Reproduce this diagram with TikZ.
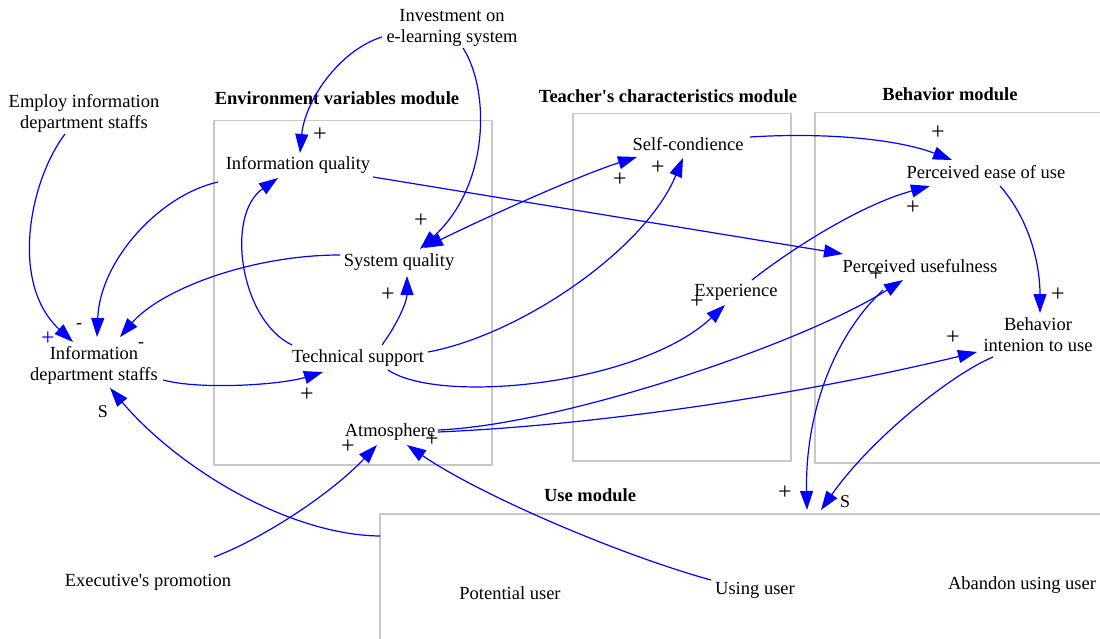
\documentclass[tikz,border=0pt]{standalone}
\usepackage{fontspec}
\setmainfont{Liberation Serif}[Ligatures=TeXOff]
\usetikzlibrary{arrows.meta,calc}
\definecolor{arrblue}{RGB}{0,0,255}
\definecolor{boxgray}{RGB}{200,200,200}
\begin{document}
\begin{tikzpicture}[x=1pt,y=-1pt,
  lbl/.style={font=\fontsize{18.5}{21}\selectfont, inner sep=0pt, align=center},
  title/.style={font=\fontsize{18.5}{21}\selectfont\bfseries, inner sep=0pt},
  pol/.style={font=\fontsize{18}{20}\selectfont, inner sep=0pt},
  plus/.style={font=\fontsize{24}{26}\selectfont, inner sep=0pt},
  link/.style={draw=arrblue, line width=1.2pt, -{Triangle[length=19pt,width=13pt]}},
  dlink/.style={draw=arrblue, line width=1.2pt, {Triangle[length=19pt,width=13pt]}-{Triangle[length=19pt,width=13pt]}},
  modbox/.style={draw=boxgray, line width=1.5pt, inner sep=0pt, anchor=north west}
]
\useasboundingbox (0,0) rectangle (1100,639);

% module boxes
\node[modbox, minimum width=278pt, minimum height=344pt] (envbox) at (213,120) {};
\node[modbox, minimum width=218pt, minimum height=347pt] (teabox) at (572,113) {};
\node[modbox, minimum width=300pt, minimum height=350pt] (behbox) at (814,112) {};
\node[modbox, minimum width=740pt, minimum height=140pt] (usebox) at (379,513) {};

% titles
\node[title] (tenv) at (337,98) {Environment variables module};
\node[title] (ttea) at (668,96) {Teacher's characteristics module};
\node[title] (tbeh) at (950,94) {Behavior module};
\node[title] (tuse) at (590,495) {Use module};

% variables
\node[lbl] (emp) at (84,113) {Employ information\\department staffs};
\node[lbl] (inv) at (452,28) {Investment on\\e-learning system};
\node[lbl] (ids) at (94,365) {Information\\department staffs};
\node[lbl] (iq) at (298,165) {Information quality};
\node[lbl] (sq) at (399,262) {System quality};
\node[lbl] (ts) at (358,358) {Technical support};
\node[lbl] (atm) at (390,432) {Atmosphere};
\node[lbl] (sc) at (688,144) {Self-condience};
\node[lbl] (exp) at (736,292) {Experience};
\node[lbl] (peou) at (986,172) {Perceived ease of use};
\node[lbl] (pu) at (920,266) {Perceived usefulness};
\node[lbl] (bi) at (1038,335) {Behavior\\intenion to use};
\node[lbl] (exe) at (148,582) {Executive's promotion};
\node[lbl] (pot) at (510,593) {Potential user};
\node[lbl] (usu) at (755,590) {Using user};
\node[lbl] (aba) at (1022,585) {Abandon using user};

% connectors
\draw[link] ($(emp)+(-19,21)$) .. controls (30,180) and (9,283) .. ($(ids)+(-21,-23)$);
\draw[link] ($(iq)+(-80,17)$) .. controls (160,195) and (100,260) .. ($(ids)+(3,-28)$);
\draw[link] ($(sq)+(-59,-7)$) .. controls (250,255) and (160,290) .. ($(ids)+(26,-28)$);
\draw[link] ($(ids)+(69,15)$) .. controls (200,390) and (280,385) .. ($(ts)+(-35,14)$);
\draw[link] ($(inv)+(-70,9)$) .. controls (340,50) and (305,100) .. ($(iq)+(2,-12)$);
\draw[link] ($(inv)+(11,20)$) .. controls (490,90) and (490,185) .. ($(sq)+(21,-13)$);
\draw[link] ($(ts)+(-66,-13)$) .. controls (240,320) and (225,215) .. ($(iq)+(-20,13)$);
\draw[link] ($(ts)+(24,-13)$) .. controls (400,320) and (407,300) .. ($(sq)+(8,14)$);
\draw[dlink] ($(sq)+(25,-14)$) .. controls (480,220) and (580,175) .. ($(sc)+(-51,13)$);
\draw[link] ($(ts)+(70,-6)$) .. controls (520,335) and (645,250) .. ($(sc)+(-5,14)$);
\draw[link] ($(iq)+(75,12)$) -- ($(pu)+(-77,-12)$);
\draw[link] ($(sc)+(62,-7)$) .. controls (830,132) and (900,140) .. ($(peou)+(-34,-12)$);
\draw[link] ($(exp)+(16,-12)$) .. controls (790,250) and (860,205) .. ($(peou)+(-56,14)$);
\draw[link] ($(ts)+(30,12)$) .. controls (440,405) and (640,385) .. ($(exp)+(-11,13)$);
\draw[link] ($(peou)+(14,14)$) .. controls (1030,220) and (1040,265) .. ($(bi)+(2,-22)$);
\draw[link] ($(atm)+(48,-2)$) .. controls (560,425) and (800,345) .. ($(pu)+(-17,14)$);
\draw[link] ($(atm)+(48,0)$) .. controls (600,425) and (800,395) .. ($(bi)+(-61,17)$);
\draw[link] ($(pu)+(-37,24)$) .. controls (830,340) and (805,420) .. ($(usebox.north west)+(428,-3)$);
\draw[link] ($(bi)+(-45,22)$) .. controls (950,375) and (870,440) .. ($(usebox.north west)+(442,-3)$);
\draw[link] ($(exe)+(66,-25)$) .. controls (260,540) and (330,495) .. ($(atm)+(-13,13)$);
\draw[link] ($(usu)+(-44,-10)$) .. controls (620,555) and (480,495) .. ($(atm)+(17,13)$);
\draw[link] ($(usebox.north west)+(1,23)$) .. controls (290,535) and (180,470) .. ($(ids)+(16,23)$);

% polarities
\node[plus, text=arrblue] (p1) at (48,339) {+};
\node[pol] (p2) at (79,326) {-};
\node[pol] (p3) at (141,345) {-};
\node[pol] (p4) at (103,412) {S};
\node[plus] (p5) at (307,395) {+};
\node[plus] (p6) at (320,135) {+};
\node[plus] (p7) at (421,221) {+};
\node[plus] (p8) at (388,295) {+};
\node[plus] (p9) at (620,180) {+};
\node[plus] (p10) at (658,168) {+};
\node[plus] (p11) at (697,302) {+};
\node[plus] (p12) at (938,133) {+};
\node[plus] (p13) at (913,208) {+};
\node[plus] (p14) at (876,275) {+};
\node[plus] (p15) at (1058,295) {+};
\node[plus] (p16) at (953,338) {+};
\node[plus] (p17) at (348,447) {+};
\node[plus] (p18) at (432,440) {+};
\node[plus] (p19) at (785,493) {+};
\node[pol] (p20) at (845,502) {S};
\end{tikzpicture}
\end{document}
